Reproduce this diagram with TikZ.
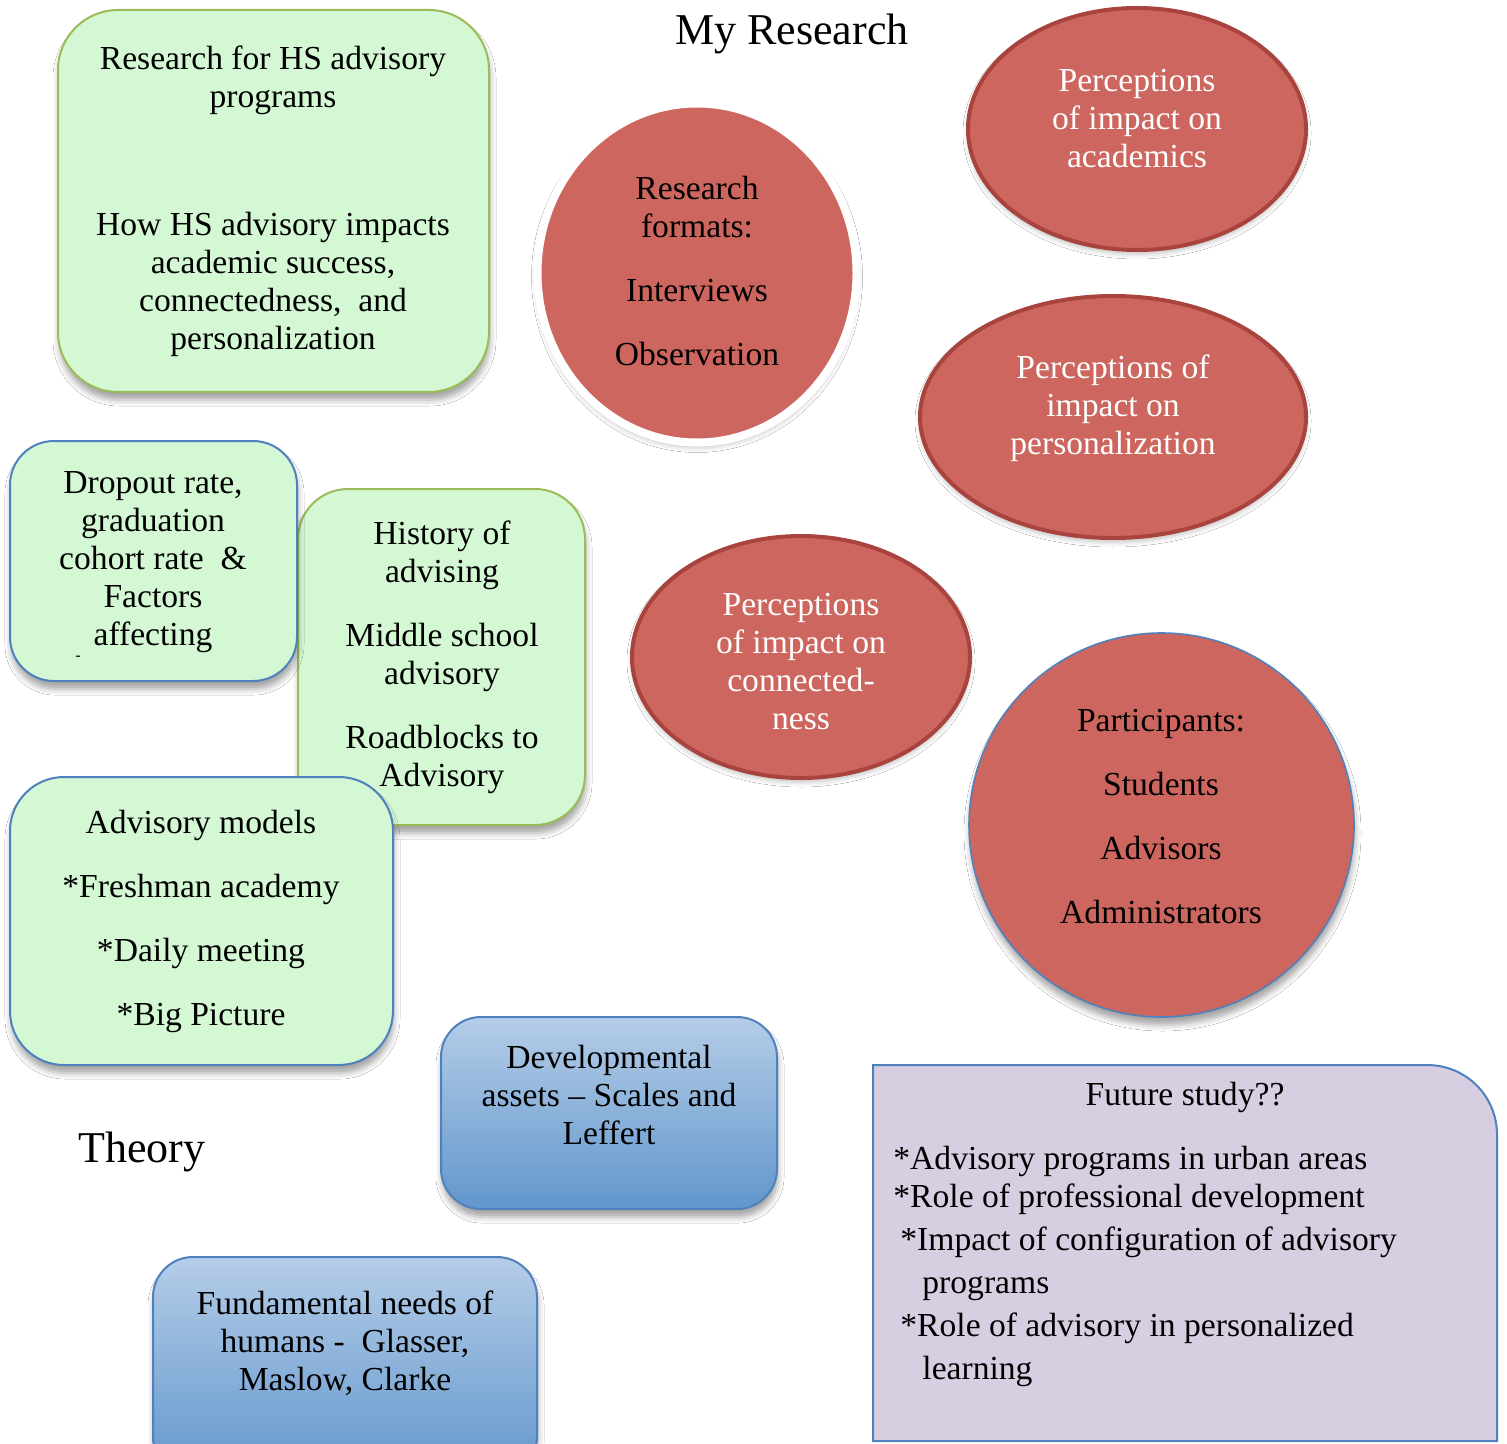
\documentclass[tikz,border=0pt]{standalone}
\usepackage{fontspec}
\setmainfont{Liberation Serif}
\usetikzlibrary{shapes.geometric,shadows.blur}
\definecolor{gfill}{HTML}{D3F8D3}
\definecolor{gborder}{HTML}{9BBB59}
\definecolor{bborder}{HTML}{4F81BD}
\definecolor{rfill}{HTML}{CD665E}
\definecolor{rborder}{HTML}{A8433E}
\definecolor{pfill}{HTML}{D7CEE2}
\definecolor{btop}{HTML}{B5CDE8}
\definecolor{bbot}{HTML}{6196CC}
\tikzset{
  shd/.style={blur shadow={shadow xshift=0.5pt,shadow yshift=-4pt,shadow blur radius=3pt,shadow opacity=35}},
  gbox/.style={draw=#1,fill=gfill,line width=1pt,inner sep=0pt,shd},
  bbox/.style={draw=bborder,top color=btop,bottom color=bbot,line width=1pt,inner sep=0pt,rounded corners=20pt,shd},
  rell/.style={ellipse,draw=rborder,fill=rfill,line width=2pt,inner sep=0pt,
    blur shadow={shadow xshift=0pt,shadow yshift=-2pt,shadow blur radius=2.5pt,shadow opacity=25}},
  txt/.style={align=center,font=\fontsize{16.8}{19}\selectfont,inner sep=0pt},
  wtxt/.style={txt,text=white},
  bigtxt/.style={font=\fontsize{22}{26}\selectfont,inner sep=0pt},
}
\begin{document}
\begin{tikzpicture}[x=0.5pt,y=-0.5pt]
\useasboundingbox (0,0) rectangle (1507,1443);
\clip (0,0) rectangle (1507,1443);
\fill[white] (0,0) rectangle (1507,1443);

\node[bigtxt] (title) at (792,34) {My Research};
\node[bigtxt] (theory) at (142,1152) {Theory};

% green box 1
\node[gbox=gborder,rounded corners=30pt,minimum width=215.5pt,minimum height=191pt] (b1) at (273.5,201) {};
\node[txt] (t1) at (273,201) {Research for HS advisory\\programs\\[45pt]How HS advisory impacts\\academic success,\\connectedness,~ and\\personalization};

% research formats circle
\node[ellipse,draw=white,fill=rfill,line width=4pt,inner sep=0pt,minimum width=159.5pt,minimum height=169.5pt,
  blur shadow={shadow xshift=0pt,shadow yshift=-2pt,shadow blur radius=3pt,shadow opacity=30}] (fmt) at (697,273) {};
\node[txt] (tfmt) at (697,271) {Research\\formats:\\[13pt]Interviews\\[13pt]Observation};

% perception ellipses
\node[rell,minimum width=169pt,minimum height=121pt] (acad) at (1137,129) {};
\node[wtxt] (tacad) at (1137,118.5) {Perceptions\\of impact on\\academics};
\node[rell,minimum width=193pt,minimum height=121pt] (pers) at (1113,417) {};
\node[wtxt] (tpers) at (1113,408.5) {Perceptions of\\impact on\\personalization};
\node[rell,minimum width=169pt,minimum height=121pt] (conn) at (801,657) {};
\node[wtxt] (tconn) at (801,661.5) {Perceptions\\of impact on\\connected-\\ness};

% participants
\node[ellipse,draw=bborder,fill=rfill,line width=0.8pt,inner sep=0pt,minimum width=192.5pt,minimum height=192pt,shd] (part) at (1161.5,825) {};
\node[txt] (tpart) at (1161,817) {Participants:\\[13pt]Students\\[13pt]Advisors\\[13pt]Administrators};

% history box
\node[gbox=gborder,rounded corners=25pt,minimum width=143.5pt,minimum height=168pt] (hist) at (441.5,657) {};
\node[txt] (thist) at (442,657.5) {History of\\advising\\[13pt]Middle school\\advisory\\[13pt]Roadblocks to\\Advisory};

% dropout box
\node[gbox=bborder,rounded corners=22pt,minimum width=143.5pt,minimum height=120pt] (drop) at (153.5,561) {};
\node[txt] (tdrop) at (153,562) {Dropout rate,\\graduation\\cohort rate~ \&\\Factors\\affecting};
\node[font=\fontsize{8}{9}\selectfont,inner sep=0pt] (dash) at (78,658) {-};

% advisory models
\node[gbox=bborder,rounded corners=27pt,minimum width=191.5pt,minimum height=144pt] (adv) at (201.5,921) {};
\node[txt] (tadv) at (201,921) {Advisory models\\[13pt]*Freshman academy\\[13pt]*Daily meeting\\[13pt]*Big Picture};

% blue boxes
\node[bbox,minimum width=168pt,minimum height=96pt] (dev) at (609,1113) {};
\node[txt] (tdev) at (609,1095) {Developmental\\assets – Scales and\\Leffert};
\node[bbox,minimum width=192pt,minimum height=110pt] (fund) at (345,1367) {};
\node[txt] (tfund) at (345,1343) {Fundamental needs of\\humans -~ Glasser,\\Maslow, Clarke};

% future study
\coordinate (fa) at (873,1441);
\coordinate (fb) at (873,1065);
\coordinate (fc) at (1427,1065);
\coordinate (fd) at (1497,1135);
\coordinate (fe) at (1497,1441);
\draw[draw=bborder,fill=pfill,line width=1pt] (fa) -- (fb) -- (fc) .. controls (1466,1065) and (1497,1096) .. (fd) -- (fe) -- cycle;
\node[txt] (tfut) at (1185,1097) {Future study??};
\node[txt,align=left,anchor=base west] (tlist) at (893,1379) {*Advisory programs in urban areas\\*Role of professional development\\[2.5pt]\hspace*{3.5pt}*Impact of configuration of advisory\\[2.5pt]\hspace*{14.5pt}programs\\[2.5pt]\hspace*{3.5pt}*Role of advisory in personalized\\[2.5pt]\hspace*{14.5pt}learning};
\end{tikzpicture}
\end{document}
